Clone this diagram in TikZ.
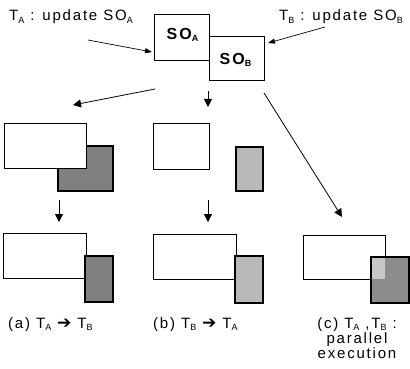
\documentclass[tikz,border=0pt]{standalone}
\usepackage{fontspec}
\setmainfont{Liberation Sans}
\newfontfamily\labfont[LetterSpace=12]{Liberation Sans}
\newfontfamily\symfont{DejaVu Sans}
\usetikzlibrary{arrows.meta,calc}
\newcommand\lsub[1]{\raisebox{-0.3ex}{\fontsize{9}{9}\selectfont #1}}
\newcommand\harr{{\symfont\bfseries\fontsize{17}{17}\selectfont ➔}}
\begin{document}
\begin{tikzpicture}[x=1pt,y=-1pt,
  box/.style={draw=black, line width=0.8pt, inner sep=0pt, outer sep=0pt, anchor=north west, fill=white},
  greybox/.style={box, line width=1.2pt},
  lab/.style={font=\labfont\fontsize{15}{13.5}\selectfont, inner sep=0pt},
  solab/.style={font=\labfont\bfseries\fontsize{16}{16}\selectfont, inner sep=0pt},
  arr/.style={-{Triangle[length=8pt,width=8pt]}, line width=0.8pt},
  thinarr/.style={-{Triangle[length=7pt,width=5pt]}, line width=0.7pt}]
\useasboundingbox (0,0) rectangle (410,369);
\fill[white] (0,0) rectangle (410,369);

% top
\node[box, minimum width=55pt, minimum height=46pt] (soa) at (154,14) {};
\node[box, minimum width=55pt, minimum height=44pt] (sob) at (209,36) {};
\node[solab] (soatext) at ($(soa.center)+(1,-2)$) {SO\lsub{A}};
\node[solab] (sobtext) at ($(sob.center)+(-1,2)$) {SO\lsub{B}};

\node[lab, anchor=base west] (la) at (9,21) {T\lsub{A} : update SO\lsub{A}};
\node[lab, anchor=base west] (lb) at (279,21) {T\lsub{B} : update SO\lsub{B}};
\coordinate (ta0) at (88,40);
\coordinate (tb0) at (325,27);
\draw[thinarr] (ta0) -- ($(soa.north west)+(-2,38)$);
\draw[thinarr] (tb0) -- ($(sob.north east)+(4,7)$);

% row 2
\node[greybox, fill=black!50, minimum width=55pt, minimum height=45pt] (r2lg) at (58,146) {};
\node[box, minimum width=82pt, minimum height=45pt] (r2lw) at (4,123) {};
\node[box, minimum width=56pt, minimum height=46pt] (r2mw) at (153,123) {};
\node[greybox, fill=black!28, minimum width=27pt, minimum height=44pt] (r2mg) at (236,147) {};

% row 3
\node[box, minimum width=83pt, minimum height=45pt] (r3lw) at (3,233) {};
\node[greybox, fill=black!50, minimum width=28pt, minimum height=46pt] (r3lg) at (85,256) {};
\node[box, minimum width=83pt, minimum height=45pt] (r3mw) at (153,234) {};
\node[greybox, fill=black!28, minimum width=28pt, minimum height=47pt] (r3mg) at (235,256) {};
\node[box, minimum width=82pt, minimum height=44pt] (r3rw) at (303,235) {};
\node[greybox, fill=black!45, minimum width=38pt, minimum height=46pt] (r3rg) at (371,257) {};
\fill[black!22] ($(r3rg.north west)+(0.6,0.6)$) rectangle (r3rw.south east);
\draw[line width=1.2pt] (r3rg.north west) rectangle (r3rg.south east);

% arrows from top
\coordinate (s1) at (155,89);
\coordinate (s2) at (208,91);
\coordinate (s3) at (264,93);
\draw[arr] (s1) -- ($(r2lw.north west)+(69,-18)$);
\draw[arr] (s2) -- ($(r2mw.north west)+(55,-16)$);
\draw[arr] (s3) -- ($(r3rw.north west)+(39,-18)$);

% arrows row2 -> row3
\coordinate (d1) at (59,200);
\coordinate (d2) at (208,200);
\draw[arr] (d1) -- ($(r3lw.north west)+(56,-11)$);
\draw[arr] (d2) -- ($(r3mw.north west)+(55,-12)$);

% captions
\node[lab, anchor=base west] (ca) at (8,328) {(a) T\lsub{A} \harr\ T\lsub{B}};
\node[lab, anchor=base west] (cb) at (153,328) {(b) T\lsub{B} \harr\ T\lsub{A}};
\node[lab, align=center, anchor=north] (cc) at (357,317) {(c) T\lsub{A} ,T\lsub{B} :\\parallel\\execution};
\end{tikzpicture}
\end{document}
